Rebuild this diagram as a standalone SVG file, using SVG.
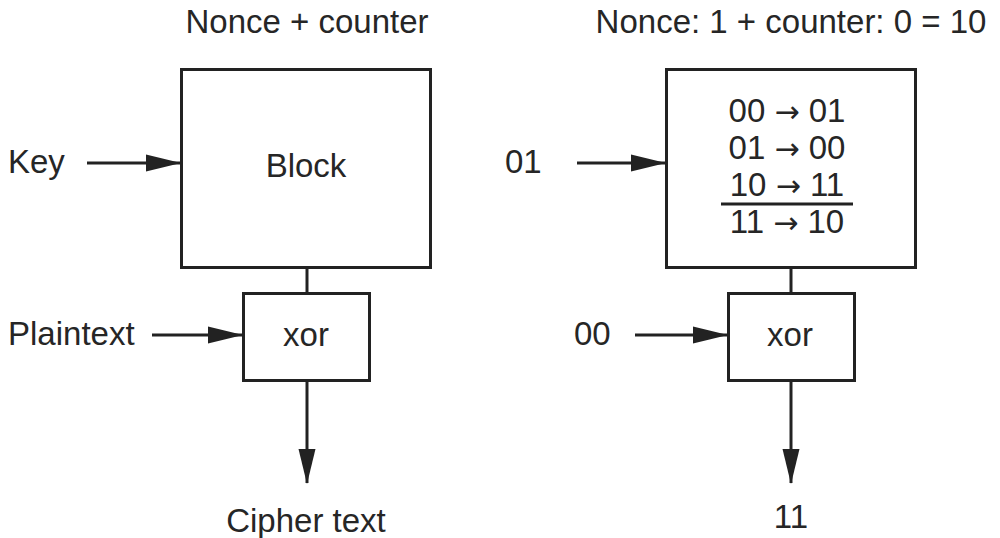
<svg xmlns="http://www.w3.org/2000/svg" width="1000" height="538" viewBox="0 0 1000 538">
<style>
text{font-family:"Liberation Sans",Arial,sans-serif;font-size:33px;fill:#262626}
.ar{font-family:"DejaVu Sans",sans-serif;font-size:30px}
.box{fill:none;stroke:#222;stroke-width:3}
.ln{stroke:#222;stroke-width:3;fill:none}
.mid{text-anchor:middle}
</style>
<defs>
<marker id="ah" markerWidth="36" markerHeight="18" refX="34" refY="9" markerUnits="userSpaceOnUse" orient="auto">
<path d="M0,0.5 L35,9 L0,17.5 Z" fill="#222"/>
</marker>
</defs>
<rect width="1000" height="538" fill="#fff"/>
<text class="mid" x="307" y="33">Nonce + counter</text>
<text class="mid" x="791" y="33">Nonce: 1 + counter: 0 = 10</text>
<g id="block-left">
<rect class="box" x="181.5" y="69.5" width="249" height="198"/>
<text class="mid" x="306" y="177">Block</text>
</g>
<g id="xor-left">
<rect class="box" x="243.5" y="293.5" width="126" height="87"/>
<text class="mid" x="306" y="346">xor</text>
</g>
<g id="block-right">
<rect class="box" x="666.5" y="69.5" width="249" height="198"/>
<text class="mid" x="787" y="122">00 <tspan class="ar">→</tspan> 01</text>
<text class="mid" x="787" y="159">01 <tspan class="ar">→</tspan> 00</text>
<text class="mid" x="787" y="196">10 <tspan class="ar">→</tspan> 11</text>
<line class="ln" x1="721" y1="204" x2="853" y2="204"/>
<text class="mid" x="787" y="233">11 <tspan class="ar">→</tspan> 10</text>
</g>
<g id="xor-right">
<rect class="box" x="728.5" y="293.5" width="126" height="87"/>
<text class="mid" x="790" y="346">xor</text>
</g>
<g id="labels">
<text x="8" y="173">Key</text>
<text x="8" y="345">Plaintext</text>
<text class="mid" x="306" y="532">Cipher text</text>
<text x="505" y="173">01</text>
<text x="574" y="345">00</text>
<text class="mid" x="791" y="528">11</text>
</g>
<g id="connectors">
<line class="ln" x1="87" y1="163" x2="180" y2="163" marker-end="url(#ah)"/>
<line class="ln" x1="152" y1="335" x2="242" y2="335" marker-end="url(#ah)"/>
<line class="ln" x1="307" y1="268" x2="307" y2="293"/>
<line class="ln" x1="307" y1="381" x2="307" y2="483" marker-end="url(#ah)"/>
<line class="ln" x1="577" y1="163" x2="665" y2="163" marker-end="url(#ah)"/>
<line class="ln" x1="635" y1="335" x2="727" y2="335" marker-end="url(#ah)"/>
<line class="ln" x1="791" y1="268" x2="791" y2="293"/>
<line class="ln" x1="791" y1="381" x2="791" y2="483" marker-end="url(#ah)"/>
</g>
</svg>
